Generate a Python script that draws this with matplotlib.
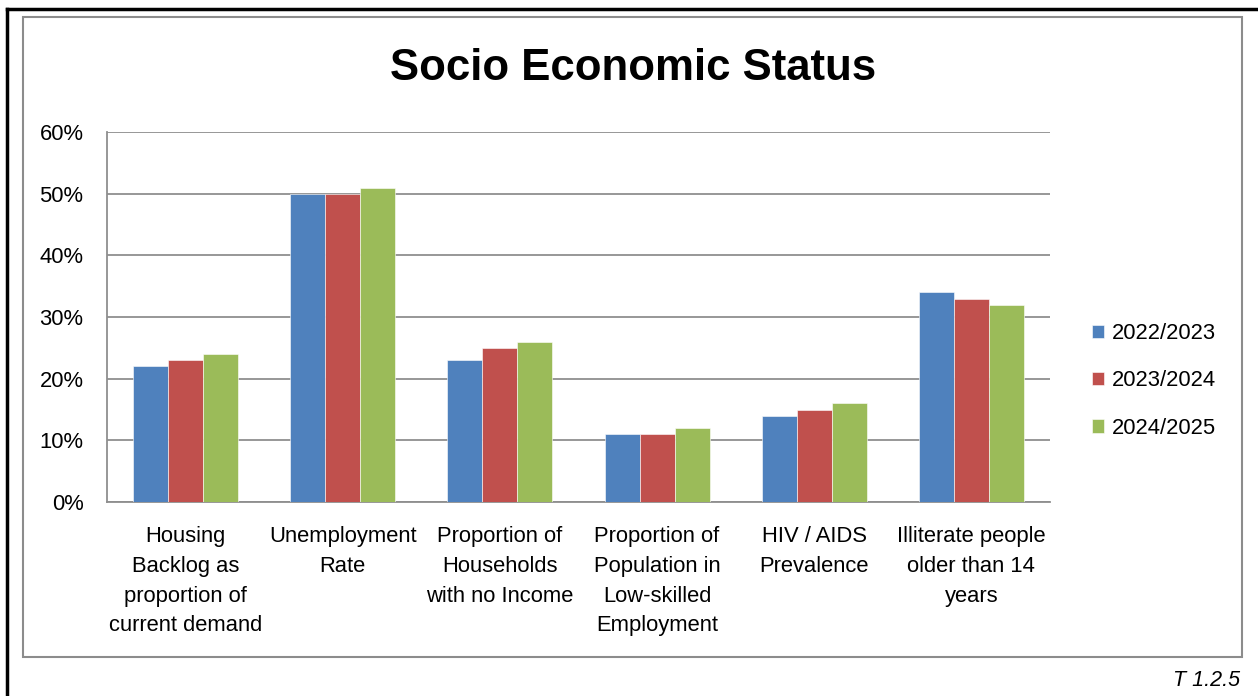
import numpy as np
import matplotlib
matplotlib.use("Agg")
from matplotlib import pyplot as plt
from matplotlib.patches import Rectangle
from matplotlib.lines import Line2D
from matplotlib.ticker import PercentFormatter

plt.rcParams['font.family'] = ['Liberation Sans', 'DejaVu Sans']

categories = [
    "Housing\nBacklog as\nproportion of\ncurrent demand",
    "Unemployment\nRate",
    "Proportion of\nHouseholds\nwith no Income",
    "Proportion of\nPopulation in\nLow-skilled\nEmployment",
    "HIV / AIDS\nPrevalence",
    "Illiterate people\nolder than 14\nyears",
]
years = ["2022/2023", "2023/2024", "2024/2025"]
v_2022 = [22, 50, 23, 11, 14, 34]
v_2023 = [23, 50, 25, 11, 15, 33]
v_2024 = [24, 51, 26, 12, 16, 32]
colors = ["#4F81BD", "#C0504D", "#9BBB59"]

W, H = 1258, 696
fig = plt.figure(figsize=(W / 100, H / 100), dpi=100)

# outer frame (top and left edge only) and grey chart box
fig.add_artist(Line2D([7 / W, 7 / W], [0, 1 - 9 / H], color="black", lw=2.5))
fig.add_artist(Line2D([7 / W, 1], [1 - 9 / H, 1 - 9 / H], color="black", lw=2.5))
fig.add_artist(Rectangle((23 / W, 1 - 657 / H), (1242 - 23) / W, (657 - 17) / H,
                         fill=False, edgecolor="#8C8C8C", lw=1.5))

ax = fig.add_axes([107 / W, 1 - 502 / H, 943 / W, 370 / H])
x = np.arange(len(categories))
bw = 0.223
for i, vals in enumerate([v_2022, v_2023, v_2024]):
    ax.bar(x + (i - 1) * bw, vals, width=bw, color=colors[i], label=years[i],
           edgecolor="white", linewidth=0.4, zorder=3)

ax.set_xlim(-0.5, len(categories) - 0.5)
ax.set_ylim(0, 60)
ax.set_yticks(np.arange(0, 61, 10))
ax.yaxis.set_major_formatter(PercentFormatter(decimals=0))
ax.yaxis.grid(True, color="#8F8F8F", lw=1.3, zorder=0)
ax.set_xticks(x)
ax.set_xticklabels(categories, linespacing=1.56)
ax.tick_params(axis="both", length=0, labelsize=15.8)
ax.tick_params(axis="x", pad=17)
ax.tick_params(axis="y", pad=17)
for s in ["top", "right"]:
    ax.spines[s].set_visible(False)
for s in ["left", "bottom"]:
    ax.spines[s].set_color("#8F8F8F")
    ax.spines[s].set_linewidth(1.3)

fig.text(633 / W, 1 - 69 / H, "Socio Economic Status", ha="center", va="center",
         fontsize=31.5, fontweight="bold")

ax.legend(loc="center left", bbox_to_anchor=(1072 / W, 1 - 381 / H),
          bbox_transform=fig.transFigure, frameon=False, fontsize=15.8,
          handlelength=0.55, handleheight=0.55, handletextpad=0.35, labelspacing=1.2)

fig.text(1240 / W, 1 - 680 / H, "T 1.2.5", ha="right", va="center",
         fontsize=15.5, style="italic")

fig.savefig("out.png", dpi=100)
